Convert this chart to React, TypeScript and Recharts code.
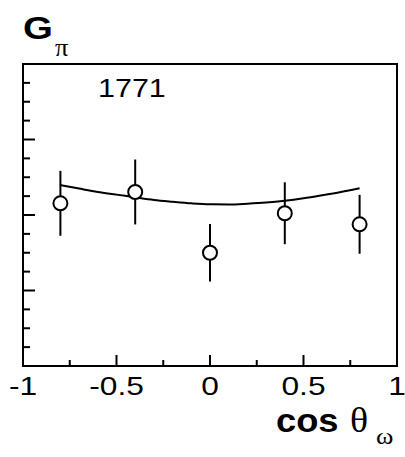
import React from 'react';
import { ComposedChart, Line, Scatter, ErrorBar, XAxis, YAxis, ReferenceArea } from 'recharts';

// measured points (cos theta_omega, G_pi, error)
const cosTheta = [-0.8, -0.4, 0, 0.4, 0.8];
const gPi = [2.155, 2.305, 1.5, 2.023, 1.877];
const gPiErr = [0.43, 0.43, 0.38, 0.41, 0.39];

// model curve
const curveX = [-0.8, -0.7, -0.6, -0.5, -0.4, -0.3, -0.2, -0.1, 0, 0.1, 0.2, 0.3, 0.4, 0.5, 0.6, 0.7, 0.8];
const curveY = [2.397, 2.35, 2.305, 2.27, 2.234, 2.2, 2.176, 2.155, 2.142, 2.14, 2.15, 2.165, 2.189, 2.222, 2.262, 2.305, 2.354];

const xTicks = [-1, -0.75, -0.5, -0.25, 0, 0.25, 0.5, 0.75, 1];
const xTickLabels = ['-1', '-0.5', '0', '0.5', '1'];
const yTicks = [0, 0.25, 0.5, 0.75, 1, 1.25, 1.5, 1.75, 2, 2.25, 2.5, 2.75, 3, 3.25, 3.5, 3.75, 4];

const points = cosTheta.map((x, i) => ({ x, y: gPi[i], err: gPiErr[i] }));
const curve = curveX.map((x, i) => ({ x, y: curveY[i] }));

const sans = 'Liberation Sans, Arial, sans-serif';
const serif = 'Liberation Serif, Times New Roman, serif';

// horizontally stretched text, anchored at (x, y)
const Txt = ({ x, y, size, anchor = 'start', bold, family = sans, sx = 1.22, children }: any) => (
    <text
        x={0}
        y={0}
        transform={`translate(${x},${y}) scale(${sx},1)`}
        fontSize={size}
        fontFamily={family}
        fontWeight={bold ? 'bold' : 'normal'}
        textAnchor={anchor}
        fill="#000"
    >
        {children}
    </text>
);

const XTick = ({ x, y, payload }: any) => {
    const v = payload.value;
    const idx = [-1, -0.5, 0, 0.5, 1].indexOf(v);
    const major = idx >= 0;
    return (
        <g>
            <line x1={x} x2={x} y1={y} y2={y - (major ? 11 : 6)} stroke="#000" strokeWidth={2} />
            {major && (
                <Txt x={x} y={y + 29} size={26} anchor="middle">
                    {xTickLabels[idx]}
                </Txt>
            )}
        </g>
    );
};

const YTick = ({ x, y, payload }: any) => {
    const major = Number.isInteger(payload.value);
    return <line x1={x} x2={x + (major ? 12 : 7)} y1={y} y2={y} stroke="#000" strokeWidth={2} />;
};

const Marker = (p: any) => <circle cx={p.cx} cy={p.cy} r={7} fill="#fff" stroke="#000" strokeWidth={2} />;

export default function App() {
    return (
        <div style={{ position: 'absolute', left: 0, top: 0, width: 405, height: 457, background: '#fff' }}>
            <ComposedChart width={405} height={457} margin={{ top: 64, right: 8, bottom: 61, left: 0 }}>
                <XAxis
                    type="number"
                    dataKey="x"
                    domain={[-1, 1]}
                    ticks={xTicks}
                    interval={0}
                    height={30}
                    tickSize={0}
                    tickMargin={0}
                    axisLine={false}
                    tickLine={false}
                    tick={<XTick />}
                />
                <YAxis
                    type="number"
                    domain={[0, 4]}
                    ticks={yTicks}
                    interval={0}
                    width={23}
                    tickSize={0}
                    tickMargin={0}
                    axisLine={false}
                    tickLine={false}
                    tick={<YTick />}
                />
                <ReferenceArea x1={-1} x2={1} y1={0} y2={4} fill="none" stroke="#000" strokeWidth={2} ifOverflow="visible" />
                <Line data={curve} dataKey="y" type="monotone" stroke="#000" strokeWidth={2} dot={false} isAnimationActive={false} />
                <Scatter data={points} dataKey="y" shape={<Marker />} isAnimationActive={false}>
                    <ErrorBar dataKey="err" direction="y" width={0} stroke="#000" strokeWidth={2} />
                </Scatter>
            </ComposedChart>
            <svg width={405} height={457} style={{ position: 'absolute', left: 0, top: 0, pointerEvents: 'none' }}>
                <Txt x={23} y={39} size={32} bold sx={1.2}>G</Txt>
                <Txt x={55} y={56} size={25} family={serif} sx={1.05}>π</Txt>
                <Txt x={98} y={97} size={25}>1771</Txt>
                <Txt x={276} y={432} size={33} bold sx={1.1}>cos</Txt>
                <Txt x={350} y={432} size={36} family={serif} sx={1.05}>θ</Txt>
                <Txt x={376} y={444} size={24} family={serif} sx={1.1}>ω</Txt>
            </svg>
        </div>
    );
}
